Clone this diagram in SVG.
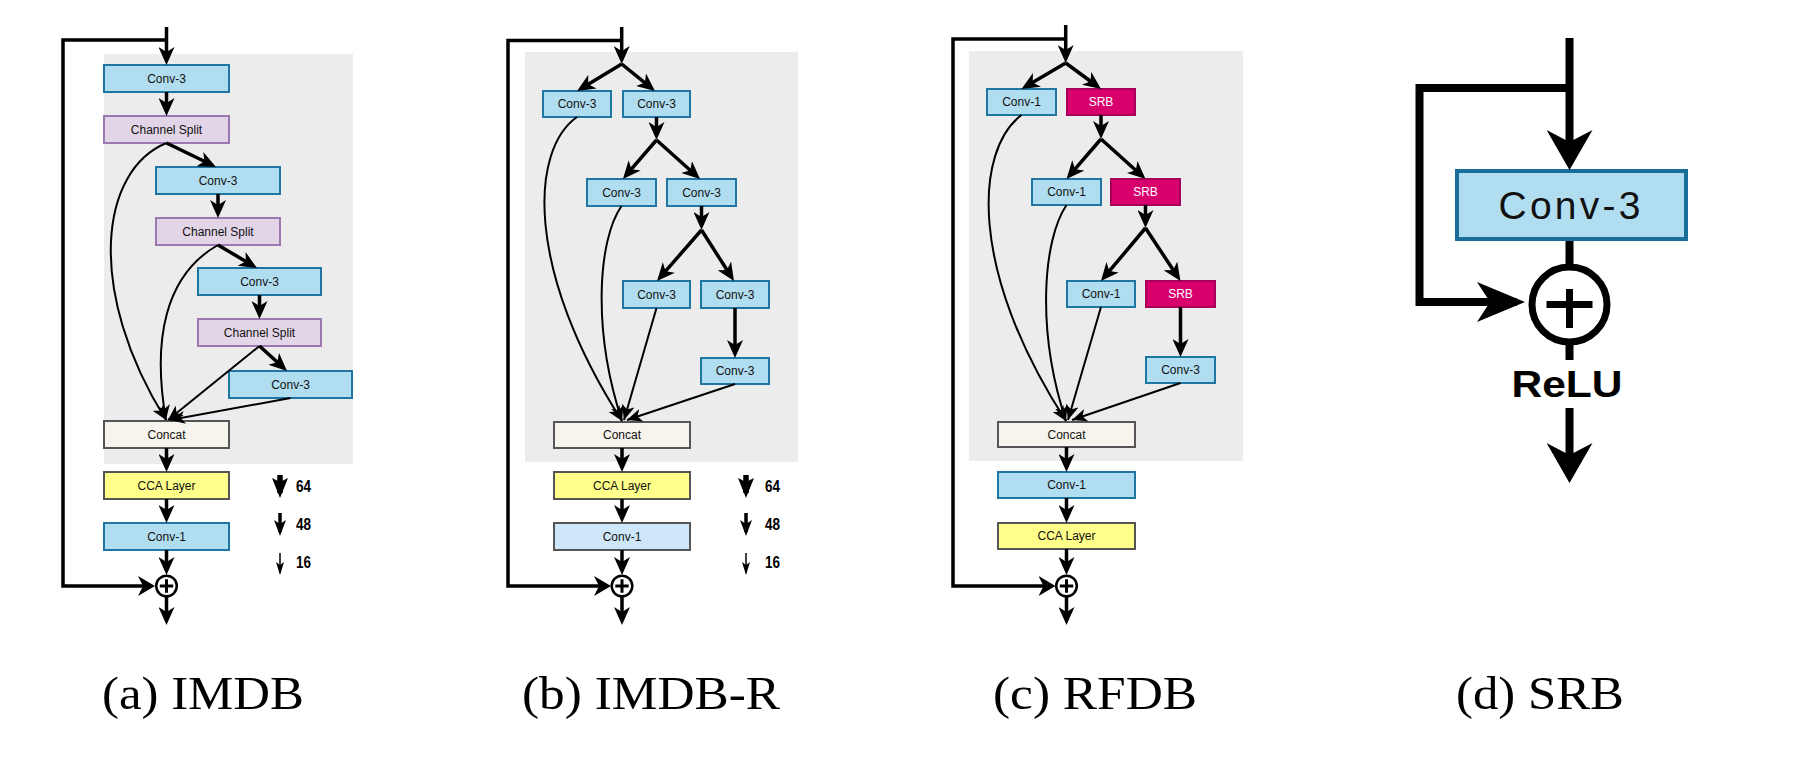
<svg xmlns="http://www.w3.org/2000/svg" width="1800" height="769" viewBox="0 0 1800 769">
<defs>
<style>
.bg{fill:#ececec}
.conv{fill:#b1ddf0;stroke:#1f76a3;stroke-width:2}
.conv1b{fill:#cde6f9;stroke:#555;stroke-width:2}
.split{fill:#e2d5e8;stroke:#9c78b0;stroke-width:2}
.concat{fill:#f6f4ec;stroke:#555;stroke-width:2}
.cca{fill:#ffff8a;stroke:#555;stroke-width:2}
.srb{fill:#d7006d;stroke:#a8005a;stroke-width:2}
.t{font-family:"Liberation Sans",Arial,sans-serif;font-size:12px;fill:#111;text-anchor:middle}
.tw{font-family:"Liberation Sans",Arial,sans-serif;font-size:12px;fill:#fff;text-anchor:middle}
.num{font-family:"Liberation Sans",Arial,sans-serif;font-size:17px;font-weight:bold;fill:#000}
.cap{font-family:"Liberation Serif","DejaVu Serif",serif;font-size:47px;fill:#000;text-anchor:middle}
.thick{fill:none;stroke:#000;stroke-width:3.5;marker-end:url(#ah)}
.thickn{fill:none;stroke:#000;stroke-width:3.5}
.thin{fill:none;stroke:#000;stroke-width:2;marker-end:url(#ahs)}
.fb{fill:none;stroke:#000;stroke-width:3.5;stroke-linejoin:miter;marker-end:url(#ahf)}
.sum{fill:#fff;stroke:#000;stroke-width:2.5}
.plus{stroke:#000;stroke-width:3}
.big{fill:none;stroke:#000;stroke-width:8;stroke-linejoin:miter}
</style>
<marker id="ah" viewBox="0 0 18 16" refX="13" refY="8" markerWidth="18" markerHeight="16" orient="auto" markerUnits="userSpaceOnUse"><path d="M0,0 L18,8 L0,16 L5,8 z" fill="#000"/></marker>
<marker id="ahs" viewBox="0 0 15 13" refX="15" refY="6.5" markerWidth="15" markerHeight="13" orient="auto" markerUnits="userSpaceOnUse"><path d="M0,0 L15,6.5 L0,13 L4,6.5 z" fill="#000"/></marker>
<marker id="ahf" viewBox="0 0 17 20" refX="12" refY="10" markerWidth="17" markerHeight="20" orient="auto" markerUnits="userSpaceOnUse"><path d="M0,0 L17,10 L0,20 L5,10 z" fill="#000"/></marker>
<marker id="ahd" viewBox="0 0 40 46" refX="32" refY="23" markerWidth="40" markerHeight="46" orient="auto" markerUnits="userSpaceOnUse"><path d="M0,0 L40,23 L0,46 L12,23 z" fill="#000"/></marker>
<marker id="ahd2" viewBox="0 0 48 40" refX="40" refY="20" markerWidth="48" markerHeight="40" orient="auto" markerUnits="userSpaceOnUse"><path d="M0,0 L48,20 L0,40 L13,20 z" fill="#000"/></marker>
<marker id="lg1" viewBox="0 0 20 16" refX="15" refY="8" markerWidth="20" markerHeight="16" orient="auto" markerUnits="userSpaceOnUse"><path d="M0,0 L20,8 L0,16 L4,8 z" fill="#000"/></marker>
<marker id="lg2" viewBox="0 0 16 12" refX="12" refY="6" markerWidth="16" markerHeight="12" orient="auto" markerUnits="userSpaceOnUse"><path d="M0,0 L16,6 L0,12 L4,6 z" fill="#000"/></marker>
<marker id="lg3" viewBox="0 0 13 8" refX="11" refY="4" markerWidth="13" markerHeight="8" orient="auto" markerUnits="userSpaceOnUse"><path d="M0,0 L13,4 L0,8 L3,4 z" fill="#000"/></marker>
</defs>
<rect width="1800" height="769" fill="#fff"/>

<!-- Panel (a) IMDB -->
<g id="panel-a">
<rect class="bg" x="104" y="54" width="249" height="410"/>
<g id="a-conv3-1"><rect class="conv" x="104" y="65" width="125" height="27"/><text class="t" x="166.5" y="82.7">Conv-3</text></g>
<g id="a-split-1"><rect class="split" x="104" y="116" width="125" height="27"/><text class="t" x="166.5" y="133.7">Channel Split</text></g>
<g id="a-conv3-2"><rect class="conv" x="156" y="167" width="124" height="27"/><text class="t" x="218" y="184.7">Conv-3</text></g>
<g id="a-split-2"><rect class="split" x="156" y="218" width="124" height="27"/><text class="t" x="218" y="235.7">Channel Split</text></g>
<g id="a-conv3-3"><rect class="conv" x="198" y="268" width="123" height="27"/><text class="t" x="259.5" y="285.7">Conv-3</text></g>
<g id="a-split-3"><rect class="split" x="198" y="319" width="123" height="27"/><text class="t" x="259.5" y="336.7">Channel Split</text></g>
<g id="a-conv3-4"><rect class="conv" x="229" y="371" width="123" height="27"/><text class="t" x="290.5" y="388.7">Conv-3</text></g>
<g id="a-concat"><rect class="concat" x="104" y="421" width="125" height="27"/><text class="t" x="166.5" y="438.7">Concat</text></g>
<g id="a-cca"><rect class="cca" x="104" y="472" width="125" height="27"/><text class="t" x="166.5" y="489.7">CCA Layer</text></g>
<g id="a-conv1"><rect class="conv" x="104" y="523" width="125" height="27"/><text class="t" x="166.5" y="540.7">Conv-1</text></g>
<g id="a-sum"><circle class="sum" cx="166.5" cy="586" r="10.3"/><path class="plus" d="M159.8,586 H173.2 M166.5,579.3 V592.7"/></g>
<g id="a-connectors">
<path class="thick" d="M166.5,27 V60"/>
<path class="fb" d="M166.5,40 H63 V586 H150"/>
<path class="thick" d="M166.5,92 V111"/>
<path class="thick" d="M166.5,143 L211.5,164.8"/>
<path class="thick" d="M218,194 V213"/>
<path class="thick" d="M218,245 L252.7,265.5"/>
<path class="thick" d="M259.5,295 V314"/>
<path class="thick" d="M259.5,346 L283.3,367.6"/>
<path class="thin" d="M166.5,143 C100,170 85,290 166,420"/>
<path class="thin" d="M218,245 C165,275 152,340 166,420"/>
<path class="thin" d="M259.5,346 L168,420"/>
<path class="thin" d="M290.5,398 L170,420"/>
<path class="thick" d="M166.5,448 V467"/>
<path class="thick" d="M166.5,499 V518"/>
<path class="thick" d="M166.5,550 V570"/>
<path class="thick" d="M166.5,597 V620"/>
</g>
<g id="a-legend">
<path d="M280,475 V493" stroke="#000" stroke-width="5.5" marker-end="url(#lg1)"/>
<path d="M280,513 V532" stroke="#000" stroke-width="3.5" marker-end="url(#lg2)"/>
<path d="M280,553 V573" stroke="#000" stroke-width="1.5" marker-end="url(#lg3)"/>
<text class="num" x="296" y="492" textLength="15" lengthAdjust="spacingAndGlyphs">64</text>
<text class="num" x="296" y="530" textLength="15" lengthAdjust="spacingAndGlyphs">48</text>
<text class="num" x="296" y="568" textLength="15" lengthAdjust="spacingAndGlyphs">16</text>
</g>
</g>

<!-- Panel (b) IMDB-R -->
<g id="panel-b">
<rect class="bg" x="525" y="52" width="273" height="410"/>
<g id="b-conv3-1a"><rect class="conv" x="543" y="91" width="68" height="26"/><text class="t" x="577" y="108.2">Conv-3</text></g>
<g id="b-conv3-1b"><rect class="conv" x="623" y="91" width="67" height="26"/><text class="t" x="656.5" y="108.2">Conv-3</text></g>
<g id="b-conv3-2a"><rect class="conv" x="587" y="179" width="69" height="27"/><text class="t" x="621.5" y="196.7">Conv-3</text></g>
<g id="b-conv3-2b"><rect class="conv" x="667" y="179" width="69" height="27"/><text class="t" x="701.5" y="196.7">Conv-3</text></g>
<g id="b-conv3-3a"><rect class="conv" x="623" y="281" width="67" height="27"/><text class="t" x="656.5" y="298.7">Conv-3</text></g>
<g id="b-conv3-3b"><rect class="conv" x="701" y="281" width="68" height="27"/><text class="t" x="735" y="298.7">Conv-3</text></g>
<g id="b-conv3-4"><rect class="conv" x="701" y="358" width="68" height="26"/><text class="t" x="735" y="375.2">Conv-3</text></g>
<g id="b-concat"><rect class="concat" x="554" y="422" width="136" height="26"/><text class="t" x="622" y="439.2">Concat</text></g>
<g id="b-cca"><rect class="cca" x="554" y="472" width="136" height="27"/><text class="t" x="622" y="489.7">CCA Layer</text></g>
<g id="b-conv1"><rect class="conv1b" x="554" y="523" width="136" height="27"/><text class="t" x="622" y="540.7">Conv-1</text></g>
<g id="b-sum"><circle class="sum" cx="622" cy="586" r="10.3"/><path class="plus" d="M615.3,586 H628.7 M622,579.3 V592.7"/></g>
<g id="b-connectors">
<path class="thick" d="M621.7,27 V59"/>
<path class="fb" d="M621.7,40.5 H508 V586 H606"/>
<path class="thick" d="M621.7,64 L581.3,88.4"/>
<path class="thick" d="M621.7,64 L651.1,87.9"/>
<path class="thick" d="M656.5,117 V135"/>
<path class="thick" d="M656.5,140 L626.2,175.2"/>
<path class="thick" d="M656.5,140 L696.3,175.7"/>
<path class="thick" d="M701.5,206 V225"/>
<path class="thick" d="M701.5,230 L660.3,277.2"/>
<path class="thick" d="M701.5,230 L731.3,276.8"/>
<path class="thick" d="M735,308 V353"/>
<path class="thin" d="M577,117 C530,150 525,270 622,421"/>
<path class="thin" d="M621.5,206 C598,240 592,330 622,421"/>
<path class="thin" d="M656.5,308 L624,420"/>
<path class="thin" d="M735,384 L627,420"/>
<path class="thick" d="M622,448 V467"/>
<path class="thick" d="M622,499 V518"/>
<path class="thick" d="M622,550 V570"/>
<path class="thick" d="M622,597 V620"/>
</g>
<g id="b-legend">
<path d="M746,475 V493" stroke="#000" stroke-width="5.5" marker-end="url(#lg1)"/>
<path d="M746,513 V532" stroke="#000" stroke-width="3.5" marker-end="url(#lg2)"/>
<path d="M746,553 V573" stroke="#000" stroke-width="1.5" marker-end="url(#lg3)"/>
<text class="num" x="765" y="492" textLength="15" lengthAdjust="spacingAndGlyphs">64</text>
<text class="num" x="765" y="530" textLength="15" lengthAdjust="spacingAndGlyphs">48</text>
<text class="num" x="765" y="568" textLength="15" lengthAdjust="spacingAndGlyphs">16</text>
</g>
</g>

<!-- Panel (c) RFDB -->
<g id="panel-c">
<rect class="bg" x="969" y="51" width="274" height="410"/>
<g id="c-conv1-1"><rect class="conv" x="987" y="89" width="69" height="26"/><text class="t" x="1021.5" y="106.2">Conv-1</text></g>
<g id="c-srb-1"><rect class="srb" x="1067" y="89" width="68" height="26"/><text class="tw" x="1101" y="106.2">SRB</text></g>
<g id="c-conv1-2"><rect class="conv" x="1032" y="179" width="69" height="26"/><text class="t" x="1066.5" y="196.2">Conv-1</text></g>
<g id="c-srb-2"><rect class="srb" x="1111" y="179" width="69" height="26"/><text class="tw" x="1145.5" y="196.2">SRB</text></g>
<g id="c-conv1-3"><rect class="conv" x="1067" y="281" width="68" height="26"/><text class="t" x="1101" y="298.2">Conv-1</text></g>
<g id="c-srb-3"><rect class="srb" x="1146" y="281" width="69" height="26"/><text class="tw" x="1180.5" y="298.2">SRB</text></g>
<g id="c-conv3"><rect class="conv" x="1146" y="357" width="69" height="26"/><text class="t" x="1180.5" y="374.2">Conv-3</text></g>
<g id="c-concat"><rect class="concat" x="998" y="422" width="137" height="25"/><text class="t" x="1066.5" y="438.7">Concat</text></g>
<g id="c-conv1"><rect class="conv" x="998" y="472" width="137" height="26"/><text class="t" x="1066.5" y="489.2">Conv-1</text></g>
<g id="c-cca"><rect class="cca" x="998" y="523" width="137" height="26"/><text class="t" x="1066.5" y="540.2">CCA Layer</text></g>
<g id="c-sum"><circle class="sum" cx="1066.5" cy="586" r="10.3"/><path class="plus" d="M1059.8,586 H1073.2 M1066.5,579.3 V592.7"/></g>
<g id="c-connectors">
<path class="thick" d="M1065.7,25 V58"/>
<path class="fb" d="M1065.7,39 H953 V586 H1050.5"/>
<path class="thick" d="M1065.7,63 L1025.8,86.5"/>
<path class="thick" d="M1065.7,63 L1097,86"/>
<path class="thick" d="M1101,115 V134"/>
<path class="thick" d="M1101,139 L1069.8,175.2"/>
<path class="thick" d="M1101,139 L1141.8,175.7"/>
<path class="thick" d="M1145.5,205 V223"/>
<path class="thick" d="M1145.5,228 L1104.2,277.2"/>
<path class="thick" d="M1145.5,228 L1177.7,276.8"/>
<path class="thick" d="M1180.5,307 V352"/>
<path class="thin" d="M1021.5,115 C975,150 968,270 1066,421"/>
<path class="thin" d="M1066.5,205 C1043,240 1036,330 1066,421"/>
<path class="thin" d="M1101,307 L1068,420"/>
<path class="thin" d="M1180.5,383 L1072,420"/>
<path class="thick" d="M1066.5,447 V467"/>
<path class="thick" d="M1066.5,498 V518"/>
<path class="thick" d="M1066.5,549 V570"/>
<path class="thick" d="M1066.5,597 V620"/>
</g>
</g>

<!-- Panel (d) SRB -->
<g id="panel-d">
<g id="d-conv3"><rect x="1457" y="171" width="229" height="68" fill="#b1ddf0" stroke="#1a6e9a" stroke-width="4"/><text x="1569.5" y="219" font-family="Liberation Sans, Arial, sans-serif" font-size="39" fill="#111" text-anchor="middle" textLength="142" lengthAdjust="spacing">Conv-3</text></g>
<g id="d-sum"><circle cx="1569.5" cy="304.5" r="37.5" fill="#fff" stroke="#000" stroke-width="7"/><path d="M1546.5,304.5 H1592.5 M1569.5,289 V328" stroke="#000" stroke-width="7"/></g>
<text id="d-relu" x="1567" y="397" font-family="Liberation Sans, Arial, sans-serif" font-size="36" font-weight="bold" fill="#000" text-anchor="middle" textLength="111" lengthAdjust="spacingAndGlyphs">ReLU</text>
<g id="d-connectors">
<path class="big" d="M1569.5,38 V162" marker-end="url(#ahd)"/>
<path class="big" d="M1569.5,88 H1419.5 V302 H1517" marker-end="url(#ahd2)"/>
<path class="big" d="M1569.5,241 V267"/>
<path class="big" d="M1569.5,342 V360"/>
<path class="big" d="M1569.5,408 V475" marker-end="url(#ahd)"/>
</g>
</g>

<!-- Captions -->
<g id="captions">
<text class="cap" x="203" y="709" textLength="202" lengthAdjust="spacingAndGlyphs">(a) IMDB</text>
<text class="cap" x="651" y="709" textLength="258" lengthAdjust="spacingAndGlyphs">(b) IMDB-R</text>
<text class="cap" x="1095" y="709" textLength="204" lengthAdjust="spacingAndGlyphs">(c) RFDB</text>
<text class="cap" x="1540" y="709" textLength="168" lengthAdjust="spacingAndGlyphs">(d) SRB</text>
</g>
</svg>
